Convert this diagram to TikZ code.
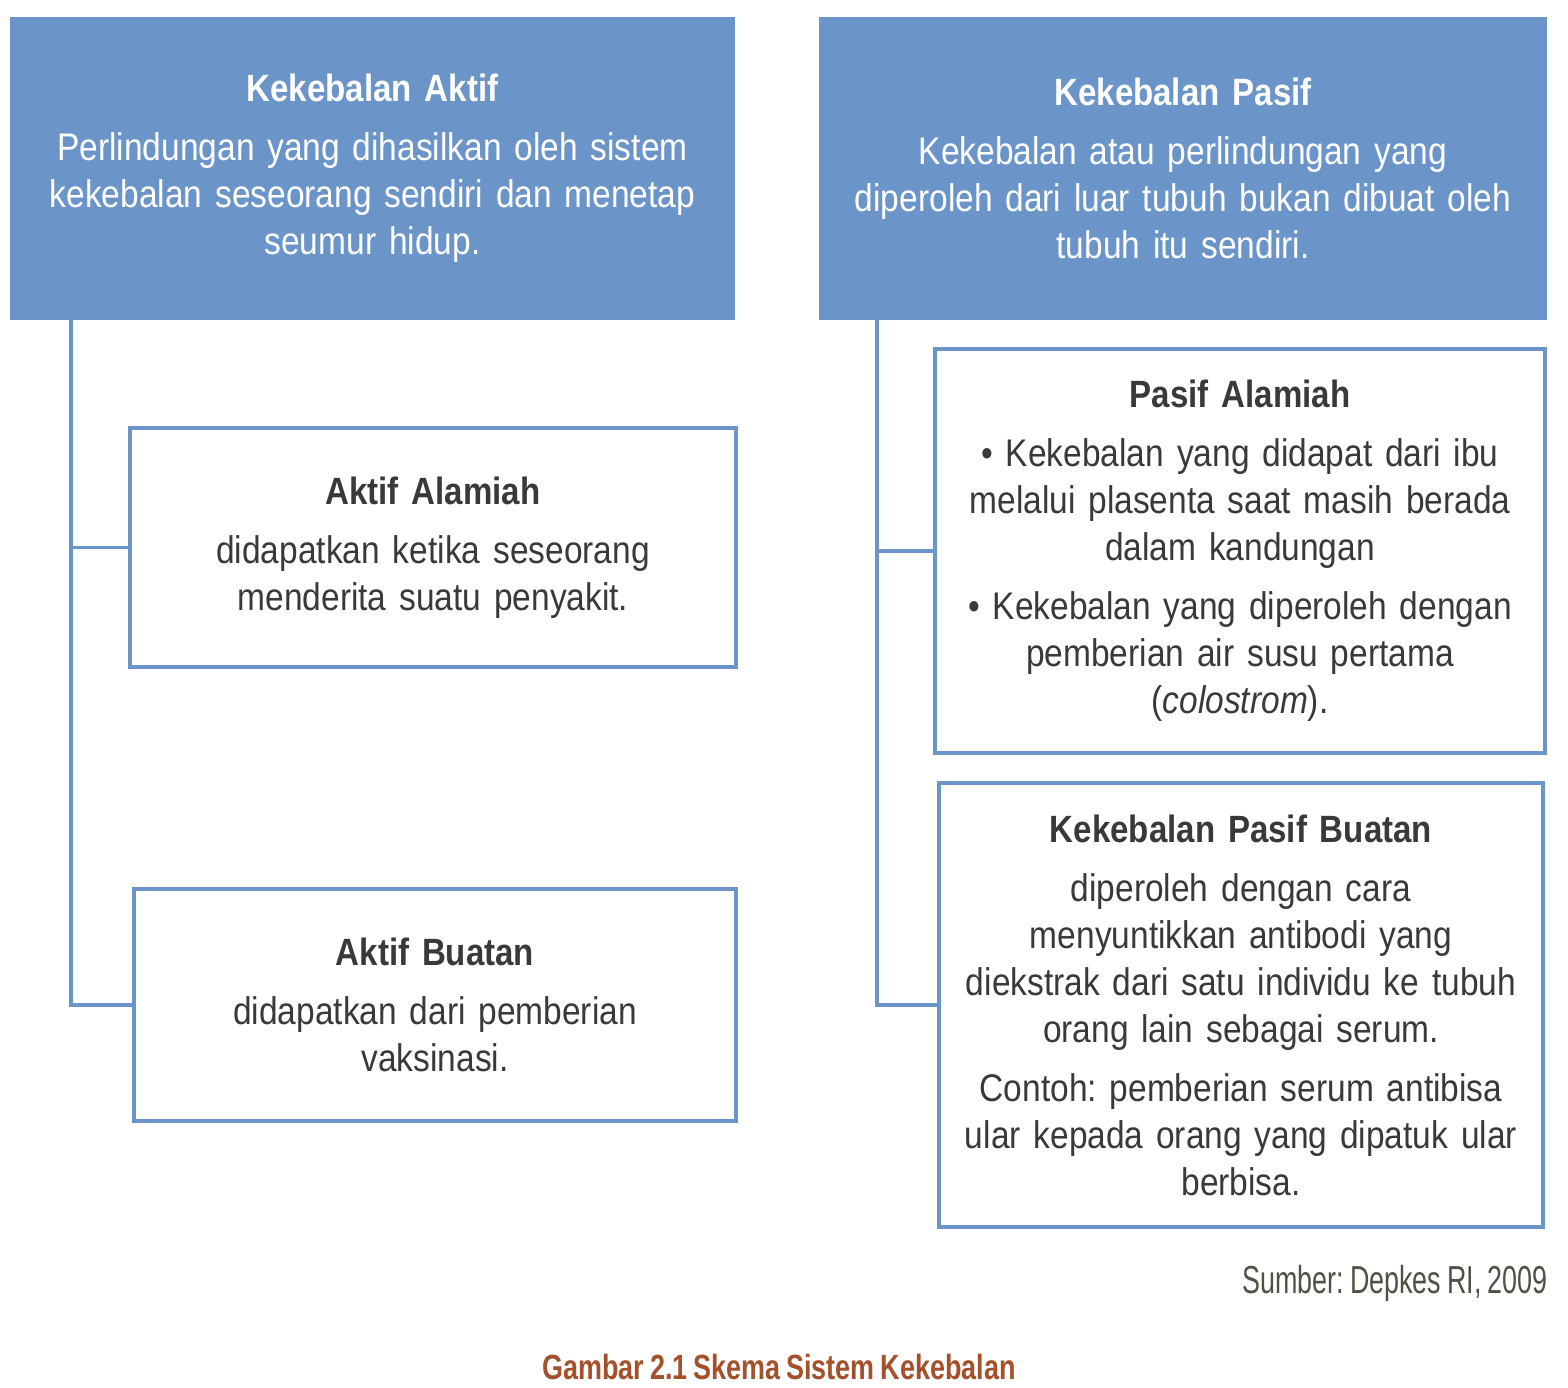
\documentclass[tikz,border=0pt]{standalone}
\usepackage{fontspec}
\setmainfont{Liberation Sans}[FakeStretch=0.87,WordSpace=0.8]
\newfontfamily\sumberfont{Liberation Sans}[FakeStretch=0.69,WordSpace=0.8]
\newfontfamily\gambarfont{Liberation Sans}[FakeStretch=0.77,WordSpace=0.8]
\usetikzlibrary{positioning}
\frenchspacing
\definecolor{kbiru}{HTML}{6B95C9}
\definecolor{kteks}{HTML}{3A3838}
\definecolor{ksumber}{HTML}{4F5142}
\definecolor{kcoklat}{HTML}{A4502A}
\newcommand{\badan}{\fontsize{19.25}{23.5}\selectfont}
\newcommand{\judul}[1]{{\fontsize{19}{23.5}\selectfont\bfseries #1}\\[6pt]}

\begin{document}
\begin{tikzpicture}[x=0.5pt,y=-0.5pt,
      head node/.style={fill=kbiru,text=white,align=center,font=\badan,
        minimum height=151.5pt,inner sep=0pt},
      sub node/.style={draw=kbiru,line width=1.6pt,text=kteks,align=center,
        font=\badan,inner sep=0pt},
      link/.style={draw=kbiru,line width=1.6pt}]
    \useasboundingbox (0,0) rectangle (1568,1387);
    % kepala
    \node[head node,minimum width=362.5pt,text width=355pt] (aktif) at (372.5,168.5)
      {\judul{Kekebalan Aktif}Perlindungan yang dihasilkan oleh sistem\\
       kekebalan seseorang sendiri dan menetap\\ seumur hidup.};
    \node[head node,minimum width=364pt,text width=355pt] (pasif) at (1183,168.5)
      {\judul{Kekebalan Pasif}Kekebalan atau perlindungan yang\\
       diperoleh dari luar tubuh bukan dibuat oleh\\ tubuh itu sendiri.};
    % cabang aktif
    \node[sub node,minimum width=303pt,minimum height=119.5pt,text width=295pt]
      (alami) at (433,547.5)
      {\judul{Aktif Alamiah}didapatkan ketika seseorang\\ menderita suatu penyakit.};
    \node[sub node,minimum width=301pt,minimum height=116pt,text width=295pt]
      (buatan) at (435,1005)
      {\judul{Aktif Buatan}didapatkan dari pemberian\\ vaksinasi.};
    % cabang pasif
    \node[sub node,minimum width=305pt,minimum height=202pt,text width=300pt]
      (palami) at (1240,551)
      {\judul{Pasif Alamiah}\textbullet\ Kekebalan yang didapat dari ibu\\
       melalui plasenta saat masih berada\\ dalam kandungan\\[6pt]
       \textbullet\ Kekebalan yang diperoleh dengan\\
       pemberian air susu pertama\\ (\textit{colostrom}).};
    \node[sub node,minimum width=302pt,minimum height=222pt,text width=298pt]
      (pbuatan) at (1241,1005)
      {\judul{Kekebalan Pasif Buatan}diperoleh dengan cara\\
       menyuntikkan antibodi yang\\ diekstrak dari satu individu ke tubuh\\
       orang lain sebagai serum.\\[6pt]
       Contoh: pemberian serum antibisa\\ ular kepada orang yang dipatuk ular\\ berbisa.};
    % garis
    \coordinate (tA) at (71,320);
    \coordinate (tP) at (877,320);
    \draw[link] (tA) |- (alami.west);
    \draw[link] (tA) |- (buatan.west);
    \draw[link] (tP) |- (palami.west);
    \draw[link] (tP) |- (pbuatan.west);
    % sumber dan judul gambar
    \node[anchor=east,text=ksumber,font=\sumberfont\fontsize{19.5}{22}\selectfont,inner sep=0pt]
      (sumber) at (1548,1283) {Sumber: Depkes RI, 2009};
    \node[text=kcoklat,font=\gambarfont\fontsize{17.5}{20}\selectfont\bfseries,inner sep=0pt]
      (gambar) at (779,1367) {Gambar 2.1 Skema Sistem Kekebalan};
\end{tikzpicture}
\end{document}
